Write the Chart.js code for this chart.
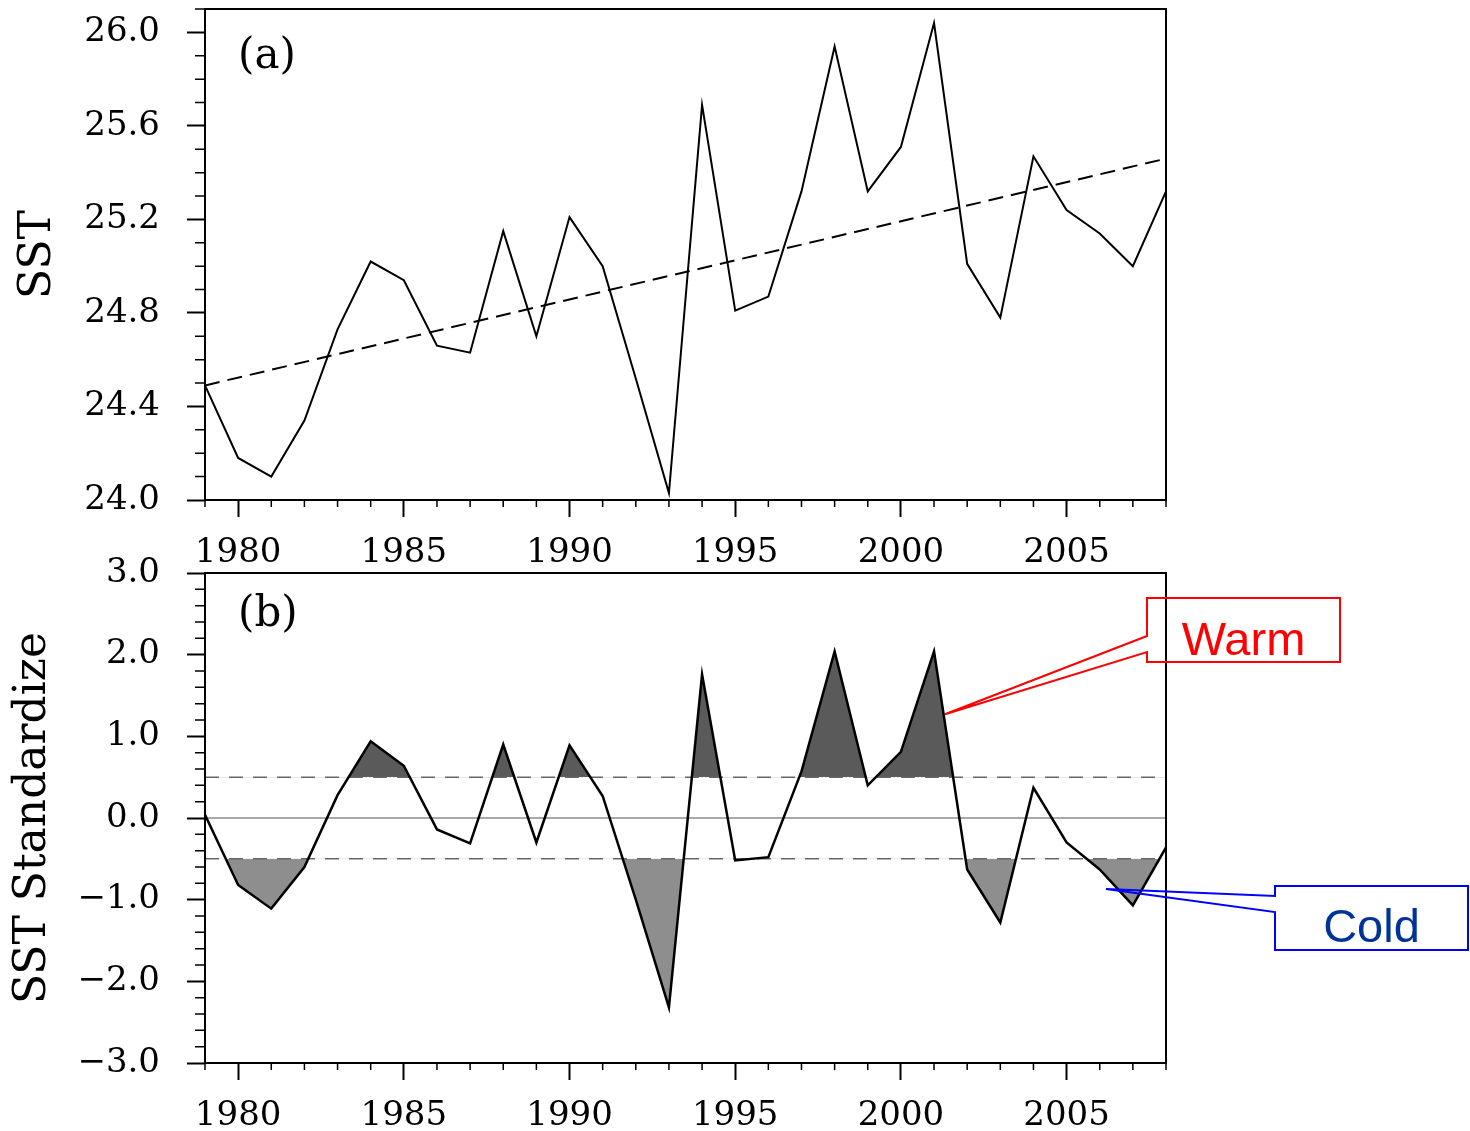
<!DOCTYPE html>
<html>
<head>
<meta charset="utf-8">
<script src="https://cdn.jsdelivr.net/npm/chart.js@4"></script>
<style>
  body { margin: 0; background: #fff; }
  canvas { position: absolute; left: 0; }
  #sstChart { top: 0; }
  #stdChart { top: 535px; }
</style>
</head>
<body>
<canvas id="sstChart" width="1470" height="565"></canvas>
<canvas id="stdChart" width="1470" height="596"></canvas>
<script>
const years = [1979, 1980, 1981, 1982, 1983, 1984, 1985, 1986, 1987, 1988,
  1989, 1990, 1991, 1992, 1993, 1994, 1995, 1996, 1997, 1998,
  1999, 2000, 2001, 2002, 2003, 2004, 2005, 2006, 2007, 2008];
const sst = [24.49, 24.18, 24.10, 24.34, 24.73, 25.02, 24.94, 24.66, 24.63, 25.15,
  24.70, 25.21, 25.00, 24.52, 24.03, 25.69, 24.81, 24.87, 25.32, 25.94,
  25.32, 25.51, 26.04, 25.01, 24.78, 25.47, 25.24, 25.14, 25.00, 25.32];
// linear trend, value at first and last year
const sstTrend = [24.49, 25.46];
const sstStd = [0.04, -0.82, -1.11, -0.60, 0.28, 0.94, 0.64, -0.14, -0.31, 0.90,
  -0.30, 0.89, 0.27, -1.00, -2.32, 1.76, -0.52, -0.48, 0.57, 2.04,
  0.40, 0.81, 2.04, -0.63, -1.28, 0.37, -0.30, -0.63, -1.07, -0.36];
const warmLevel = 0.5;
const coldLevel = -0.5;
const yearTicks = [1980, 1985, 1990, 1995, 2000, 2005];
const sstTicks = [24.0, 24.4, 24.8, 25.2, 25.6, 26.0];
const stdTicks = [-3, -2, -1, 0, 1, 2, 3];

const serif = 'DejaVu Serif';
const stdTop = 535; // page offset of the lower canvas
const xFirst = years[0], xLast = years[years.length - 1];
const pts = vals => years.map((yr, i) => ({ x: yr, y: vals[i] }));
const flat = v => [{ x: xFirst, y: v }, { x: xLast, y: v }];
const fmt = v => (v < 0 ? '\u2212' : '') + Math.abs(v).toFixed(1);

// minor ticks, frame and panel letter
const framePlugin = {
  id: 'framePlugin',
  afterDraw(chart, args, opts) {
    const { ctx, chartArea: a, scales: { x, y } } = chart;
    ctx.save();
    ctx.strokeStyle = '#000';
    ctx.lineWidth = 1.5;
    ctx.beginPath();
    for (let v = x.min; v <= x.max; v++) {
      if (yearTicks.includes(v)) continue;
      const px = x.getPixelForValue(v);
      ctx.moveTo(px, a.bottom);
      ctx.lineTo(px, a.bottom + 7);
    }
    const n = Math.round((y.max - y.min) / opts.yMinor);
    for (let i = 0; i <= n; i++) {
      const v = y.min + i * opts.yMinor;
      if (opts.yMajor.some(m => Math.abs(m - v) < 1e-6)) continue;
      const py = y.getPixelForValue(v);
      ctx.moveTo(a.left, py);
      ctx.lineTo(a.left - 10, py);
    }
    ctx.stroke();
    ctx.lineWidth = 2;
    ctx.strokeRect(a.left, a.top, a.right - a.left, a.bottom - a.top);
    ctx.fillStyle = '#000';
    ctx.font = '42px "' + serif + '"';
    ctx.textAlign = 'left';
    ctx.textBaseline = 'alphabetic';
    ctx.fillText(opts.label, a.left + 33, a.top + opts.labelDy);
    ctx.restore();
  }
};

// Warm / Cold callouts (box and text in page pixels, pointer in data units)
const callouts = [
  { text: 'Warm', line: '#ff0000', ink: '#ff0000', at: [2001.33, 1.27], box: [1147, 598, 193, 64], gap: [636, 652], base: 655 },
  { text: 'Cold', line: '#0000ff', ink: '#003399', at: [2006.19, -0.87], box: [1275, 886, 193, 64], gap: [896, 912], base: 942 }
];
const calloutPlugin = {
  id: 'calloutPlugin',
  afterDraw(chart) {
    const { ctx, scales: { x, y } } = chart;
    ctx.save();
    callouts.forEach(c => {
      const [bx, pageY, w, h] = c.box;
      const by = pageY - stdTop;
      const px = x.getPixelForValue(c.at[0]);
      const py = y.getPixelForValue(c.at[1]);
      ctx.strokeStyle = c.line;
      ctx.lineWidth = 2;
      ctx.beginPath();
      ctx.moveTo(bx, by);
      ctx.lineTo(bx + w, by);
      ctx.lineTo(bx + w, by + h);
      ctx.lineTo(bx, by + h);
      ctx.lineTo(bx, c.gap[1] - stdTop);
      ctx.lineTo(px, py);
      ctx.lineTo(bx, c.gap[0] - stdTop);
      ctx.closePath();
      ctx.stroke();
      ctx.fillStyle = c.ink;
      ctx.font = '47px "Liberation Sans"';
      ctx.textAlign = 'center';
      ctx.textBaseline = 'alphabetic';
      ctx.fillText(c.text, bx + w / 2, c.base - stdTop);
    });
    ctx.restore();
  }
};

function xScale(height) {
  return {
    type: 'linear', min: xFirst, max: xLast,
    afterBuildTicks: s => { s.ticks = yearTicks.map(v => ({ value: v })); },
    afterFit: s => { s.height = height; s.paddingLeft = 0; s.paddingRight = 0; },
    border: { display: false },
    grid: { drawOnChartArea: false, tickLength: 17, tickWidth: 2, tickColor: '#000' },
    ticks: { autoSkip: false, maxRotation: 0, padding: 16, color: '#000',
      font: { family: serif, size: 34 }, callback: v => String(v) }
  };
}
function yScale(min, max, tickVals, title, titlePad) {
  return {
    type: 'linear', min: min, max: max,
    afterBuildTicks: s => { s.ticks = tickVals.map(v => ({ value: v })); },
    afterFit: s => { s.width = 205; s.paddingTop = 0; s.paddingBottom = 0; },
    border: { display: false },
    grid: { drawOnChartArea: false, tickLength: 18, tickWidth: 2, tickColor: '#000' },
    ticks: { padding: 27, color: '#000', font: { family: serif, size: 34 }, callback: v => fmt(v) },
    title: { display: true, text: title, color: '#000', padding: { top: titlePad, bottom: 0 },
      font: { family: serif, size: 44 } }
  };
}
const common = {
  responsive: false,
  animation: false,
  elements: { point: { radius: 0 } },
  plugins: { legend: { display: false }, tooltip: { enabled: false } }
};

new Chart(document.getElementById('sstChart').getContext('2d'), {
  type: 'line',
  data: {
    datasets: [
      { data: pts(sst), borderColor: '#000', borderWidth: 2, fill: false },
      { data: [{ x: xFirst, y: sstTrend[0] }, { x: xLast, y: sstTrend[1] }],
        borderColor: '#000', borderWidth: 2, borderDash: [15, 8], fill: false }
    ]
  },
  options: Object.assign({}, common, {
    layout: { padding: { left: 0, right: 304, top: 9, bottom: 0 } },
    scales: { x: xScale(65), y: yScale(24.0, 26.1, sstTicks, 'SST', 12) },
    plugins: Object.assign({}, common.plugins, {
      framePlugin: { yMinor: 0.1, yMajor: sstTicks, label: '(a)', labelDy: 59 }
    })
  }),
  plugins: [framePlugin]
});

new Chart(document.getElementById('stdChart').getContext('2d'), {
  type: 'line',
  data: {
    datasets: [
      { data: pts(sstStd), borderColor: '#000', borderWidth: 2.5,
        fill: { target: { value: warmLevel }, above: '#5a5a5a', below: 'rgba(0,0,0,0)' } },
      { data: pts(sstStd), borderWidth: 0, borderColor: 'rgba(0,0,0,0)',
        fill: { target: { value: coldLevel }, above: 'rgba(0,0,0,0)', below: '#8e8e8e' } },
      { data: flat(warmLevel), borderColor: '#666', borderWidth: 1.5, borderDash: [14, 10], fill: false },
      { data: flat(coldLevel), borderColor: '#666', borderWidth: 1.5, borderDash: [14, 10], fill: false },
      { data: flat(0), borderColor: '#555', borderWidth: 1.2, fill: false }
    ]
  },
  options: Object.assign({}, common, {
    layout: { padding: { left: 0, right: 304, top: 573 - stdTop, bottom: 0 } },
    scales: { x: xScale(68), y: yScale(-3, 3, stdTicks, 'SST Standardize', 7) },
    plugins: Object.assign({}, common.plugins, {
      filler: { drawTime: 'beforeDatasetsDraw' },
      framePlugin: { yMinor: 0.2, yMajor: stdTicks, label: '(b)', labelDy: 53 }
    })
  }),
  plugins: [framePlugin, calloutPlugin]
});
</script>
</body>
</html>
